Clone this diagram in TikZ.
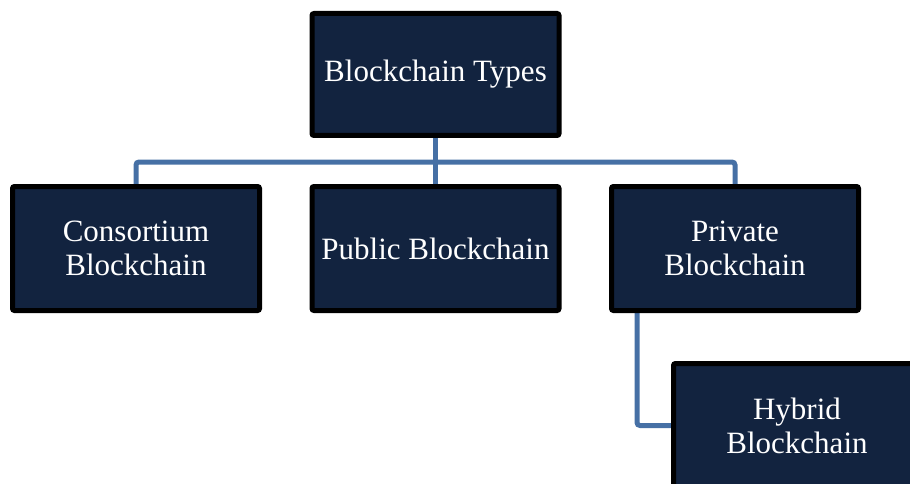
\documentclass[tikz,border=0pt]{standalone}
\usepackage{fontspec}
\setmainfont{Liberation Serif}
\usetikzlibrary{backgrounds}
\definecolor{boxfill}{HTML}{12233F}
\definecolor{linkblue}{HTML}{4670A5}
\begin{document}
\begin{tikzpicture}[x=1pt,y=-1pt,
  typebox/.style={draw=black,line width=5pt,fill=boxfill,rounded corners=2pt,
    minimum width=247pt,minimum height=124pt,inner sep=0pt,align=center,
    text=white,font=\fontsize{31}{34}\selectfont},
  link/.style={draw=linkblue,line width=5pt,rounded corners=3pt}]
\clip (0,0) rectangle (910,484);
\useasboundingbox (0,0) rectangle (910,484);
\node[typebox,minimum height=122pt] (top) at (435.5,74.5) {Blockchain Types};
\node[typebox] (cons) at (136,248.5) {Consortium\\Blockchain};
\node[typebox] (pub) at (435.5,248.5) {Public Blockchain};
\node[typebox] (priv) at (735,248.5) {Private\\Blockchain};
\node[typebox] (hyb) at (797,425.5) {Hybrid\\Blockchain};
\coordinate (bus) at (435.5,162);
\coordinate (privdrop) at (637,312);
\begin{scope}[on background layer]
\draw[link] (top.south) -- (pub.north);
\draw[link] (cons.north) |- (bus) -| (priv.north);
\draw[link] (privdrop) |- (hyb.west);
\end{scope}
\end{tikzpicture}
\end{document}
